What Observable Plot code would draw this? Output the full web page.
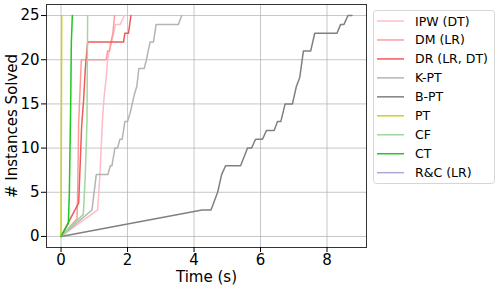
<!DOCTYPE html>
<html>
<head>
<meta charset="utf-8">
<script src="https://cdn.jsdelivr.net/npm/d3@7"></script>
<script src="https://cdn.jsdelivr.net/npm/@observablehq/plot@0.6"></script>
<style>
  body { margin: 0; background: white; }
  #wrap { position: relative; width: 498px; height: 289px; font-family: "DejaVu Sans", sans-serif; }
  #legend { position: absolute; left: 373px; top: 10px; }
</style>
</head>
<body>
<div id="wrap"><div id="chart"></div><svg id="legend" width="122" height="174"></svg></div>
<script>
// Series names and colours
const seriesNames = ["IPW (DT)", "DM (LR)", "DR (LR, DT)", "K-PT", "B-PT", "PT", "CF", "CT", "R&C (LR)"];
const seriesColors = ["#ffbcc6", "#ff9a9a", "#f05a5a", "#b4b4b4", "#808080", "#cad41e", "#a2d6a2", "#1ec81e", "#aaaad2"];

// Values: time (s) and number of instances solved
const ipwTime   = [0, 1.10, 1.17, 1.25, 1.30, 1.36, 1.40, 1.45, 1.52, 1.58, 1.64, 1.78, 1.84, 1.90];
const ipwSolved = [0, 3, 7, 13.5, 16, 18, 20, 21, 22, 23, 24, 24, 24.5, 25];

const dmTime   = [0, 0.48, 0.50, 0.53, 0.61, 1.36, 1.40, 1.46, 1.50, 1.56, 1.61];
const dmSolved = [0, 2, 5, 12.8, 20, 20, 21, 21, 22, 23, 25];

const drTime   = [0, 0.53, 0.62, 0.68, 0.73, 0.80, 1.88, 1.92, 2.03, 2.10];
const drSolved = [0, 3.8, 12.5, 15.5, 19, 22, 22, 23, 23, 25];

const kptTime   = [0, 0.93, 1.06, 1.41, 1.48, 1.53, 1.62, 1.70, 1.77, 1.84, 1.92, 2.00, 2.08, 2.20, 2.28, 2.34, 2.50, 2.57, 2.62, 2.68, 2.78, 2.86, 3.53, 3.63];
const kptSolved = [0, 3, 7, 7, 8, 8, 10, 10, 11, 11, 13, 13, 14, 16, 17, 19, 19, 20, 21, 22, 22, 24, 24, 25];

const bptTime   = [0, 4.24, 4.51, 4.71, 4.83, 4.95, 5.40, 5.61, 5.73, 5.85, 6.06, 6.18, 6.41, 6.51, 6.61, 6.74, 6.96, 7.08, 7.18, 7.29, 7.51, 7.63, 8.30, 8.41, 8.51, 8.63, 8.75];
const bptSolved = [0, 3, 3, 5, 7, 8, 8, 10, 10, 11, 11, 12, 12, 13, 13, 15, 15, 17, 18, 21, 21, 23, 23, 24, 24, 25, 25];

const ptTime   = [0, 0.01, 0.02];
const ptSolved = [0, 12, 25];

const cfTime   = [0, 0.67, 0.73, 0.78, 0.80];
const cfSolved = [0, 2.5, 7, 13, 25];

const ctTime   = [0, 0.22, 0.25, 0.29, 0.31, 0.34];
const ctSolved = [0, 1.5, 5, 15, 22, 25];

const rcTime   = [];
const rcSolved = [];

const xTicks = [0, 2, 4, 6, 8];
const yTicks = [0, 5, 10, 15, 20, 25];

const allTimes = [ipwTime, dmTime, drTime, kptTime, bptTime, ptTime, cfTime, ctTime, rcTime];
const allSolved = [ipwSolved, dmSolved, drSolved, kptSolved, bptSolved, ptSolved, cfSolved, ctSolved, rcSolved];

const lineMarks = seriesNames.map((name, i) => {
  const rows = allTimes[i].map((t, k) => ({series: name, t, n: allSolved[i][k]}));
  return Plot.line(rows, {x: "t", y: "n", stroke: seriesColors[i], strokeWidth: 1.5});
});

const chart = Plot.plot({
  width: 498,
  height: 289,
  marginLeft: 46,
  marginRight: 132,
  marginTop: 4,
  marginBottom: 42,
  x: {domain: [-0.4375, 9.1875]},
  y: {domain: [-1.25, 26.25]},
  style: {fontFamily: "DejaVu Sans, sans-serif", fontSize: "15px", color: "#000", background: "white"},
  marks: [
    Plot.gridX(xTicks, {stroke: "#b0b0b0", strokeOpacity: 0.9, strokeWidth: 0.8}),
    Plot.gridY(yTicks, {stroke: "#b0b0b0", strokeOpacity: 0.9, strokeWidth: 0.8}),
    ...lineMarks,
    Plot.frame({stroke: "#333", strokeWidth: 1}),
    Plot.axisX(xTicks, {tickSize: 5, tickPadding: 2, label: null, fontSize: 15}),
    Plot.axisY(yTicks, {tickSize: 5, tickPadding: 2, label: null, fontSize: 15}),
    Plot.text(["Time (s)"], {frameAnchor: "bottom", lineAnchor: "middle", textAnchor: "middle", dy: 30, fontSize: 15}),
    Plot.text(["# Instances Solved"], {frameAnchor: "left", lineAnchor: "middle", textAnchor: "middle", rotate: -90, dx: -34, fontSize: 15})
  ]
});
document.getElementById("chart").appendChild(chart);

// Legend box (matplotlib style)
const lg = d3.select("#legend");
lg.append("rect").attr("x", 0.5).attr("y", 0.5).attr("width", 121).attr("height", 173)
  .attr("rx", 3).attr("fill", "white").attr("fill-opacity", 0.8).attr("stroke", "#d6d6d6");
seriesNames.forEach((name, i) => {
  const cy = 11 + i * 18.96;
  lg.append("line").attr("x1", 4).attr("x2", 31).attr("y1", cy).attr("y2", cy)
    .attr("stroke", seriesColors[i]).attr("stroke-width", 1.5);
  lg.append("text").attr("x", 42).attr("y", cy).attr("dy", "0.36em")
    .attr("font-family", "DejaVu Sans, sans-serif").attr("font-size", 12.5).attr("fill", "#000")
    .text(name);
});
</script>
</body>
</html>
